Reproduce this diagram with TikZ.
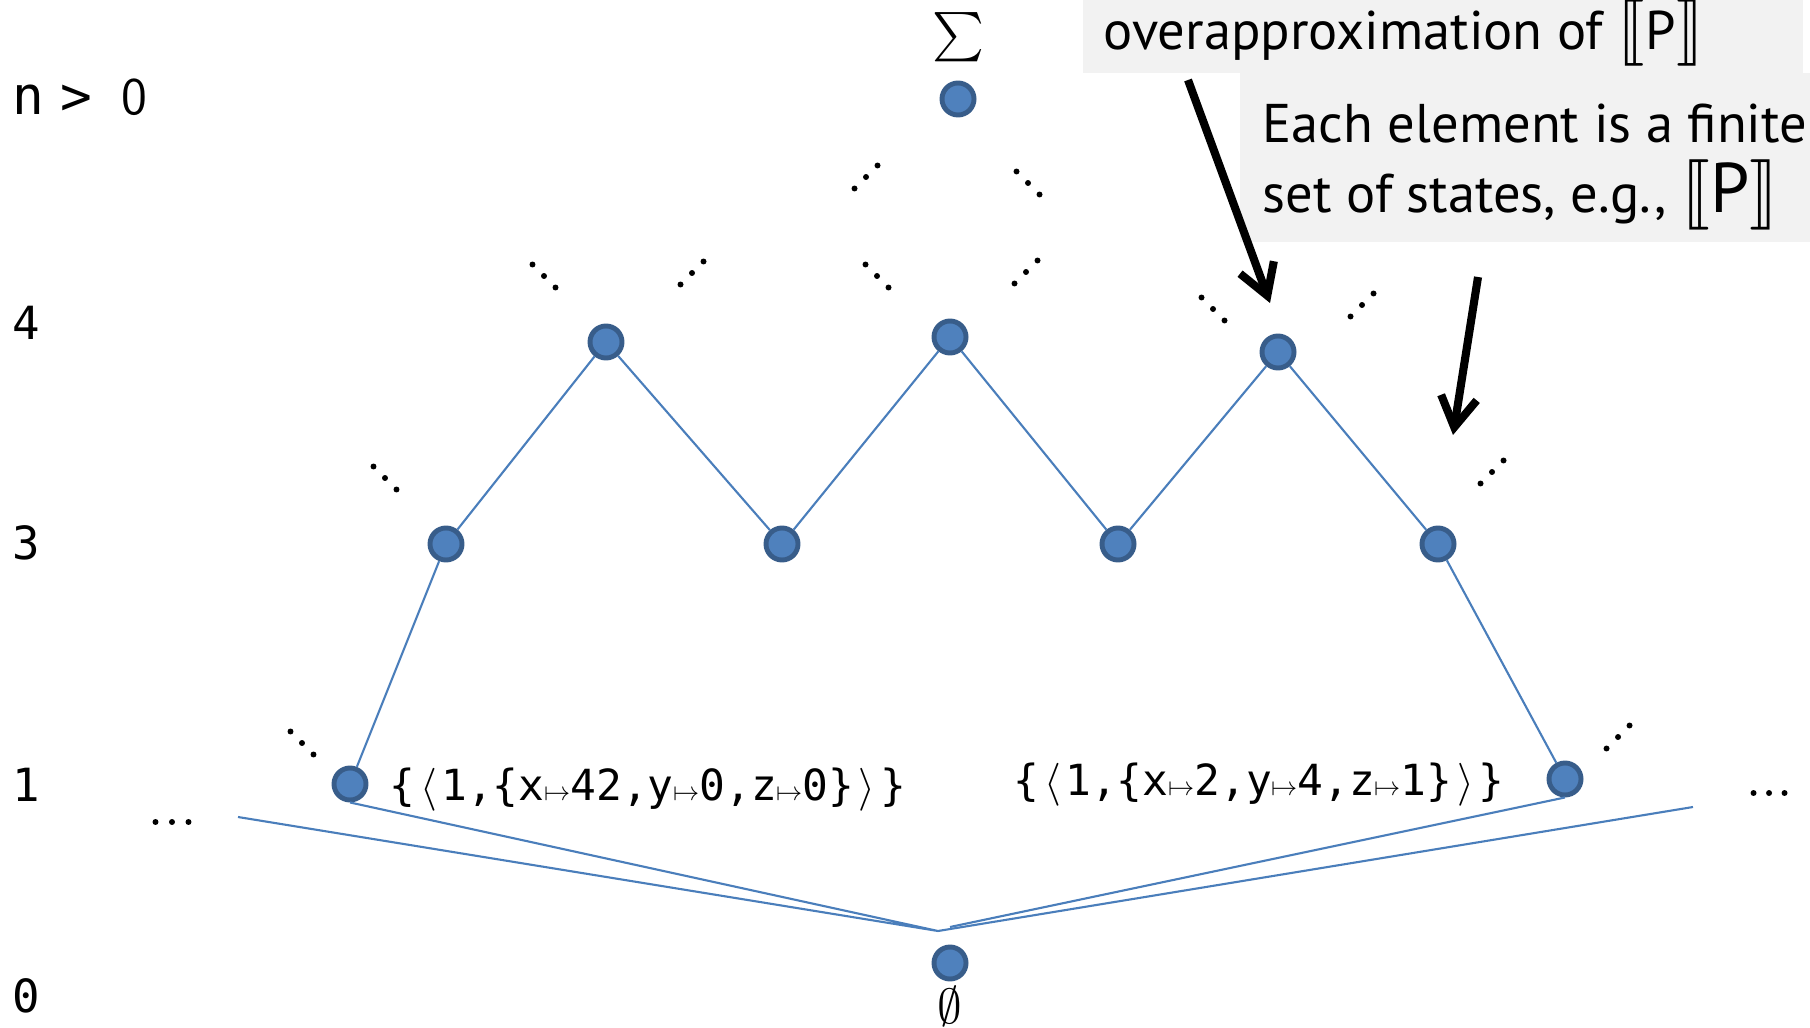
\documentclass[tikz,border=0pt]{standalone}
\usepackage{fontspec}
\usepackage{unicode-math}
\usetikzlibrary{arrows.meta}
\newfontfamily\monofont{DejaVu Sans Mono}
\newfontfamily\notefont{PT Sans}
\definecolor{elemfill}{HTML}{4F81BD}
\definecolor{elemdraw}{HTML}{385D8A}
\definecolor{linkblue}{HTML}{4A7EBB}
\definecolor{notegray}{HTML}{F2F2F2}
\newcommand\la{\makebox[0.6em]{$\langle$}}
\newcommand\ra{\makebox[0.6em]{$\rangle$}}
\newcommand\mto{\makebox[0.6em]{\fontsize{7.6}{8}\selectfont$\mapsto$}}

\begin{document}
\begin{tikzpicture}[x=0.01cm,y=-0.01cm,
  elem/.style={circle, fill=elemfill, draw=elemdraw, line width=1.4pt, minimum size=0.32cm, inner sep=0pt},
  link/.style={linkblue, line width=0.6pt},
  lvl/.style={font=\monofont\fontsize{13}{15}\selectfont, inner sep=0pt, anchor=base},
  state/.style={font=\monofont\fontsize{12.2}{14}\selectfont, inner sep=0pt, anchor=base west},
  note/.style={font=\notefont\fontsize{15.5}{18}\selectfont, inner sep=0pt, anchor=base west},
  hint/.style={line width=2.3pt, -{Straight Barb[length=0.3cm, width=0.36cm]}}]
\useasboundingbox (0,0) rectangle (1810,1028);
% note boxes
\fill[notegray] (1083,0) rectangle (1803,73);
\fill[notegray] (1240,73) rectangle (1810,242);
\node[note] (over) at (1103,50) {overapproximation of {\fontsize{19}{20}\selectfont$\lBrack$}P{\fontsize{19}{20}\selectfont$\rBrack$}};
\node[note] (each) at (1262,143) {Each element is a finite};
\node[note] (setof) at (1262,213) {set of states, e.g., {\fontsize{20}{22}\selectfont$\lBrack$P$\rBrack$}};
% levels
\node[lvl, anchor=base west] (ntop) at (12,115) {\fontsize{15}{17}\selectfont n\hspace{0.3em}>\hspace{0.55em}{\sffamily 0}};
\node[lvl] (n4) at (26,340) {4};
\node[lvl] (n3) at (26,560) {3};
\node[lvl] (n1) at (26,801) {1};
\node[lvl] (n0) at (26,1012) {0};
% lattice elements
\node[elem] (top) at (958,99) {};
\node[elem] (l4a) at (606,342) {};
\node[elem] (l4b) at (950,337) {};
\node[elem] (l4c) at (1278,352) {};
\node[elem] (l3a) at (446,544) {};
\node[elem] (l3b) at (782,544) {};
\node[elem] (l3c) at (1118,544) {};
\node[elem] (l3d) at (1438,544) {};
\node[elem] (l1a) at (350,784) {};
\node[elem] (l1b) at (1565,779) {};
\node[elem] (bot) at (950,963) {};
\node[inner sep=0pt, font=\fontsize{14}{16}\selectfont] (sig) at (958,37) {$\sum$};
\node[inner sep=0pt, font=\fontsize{14}{16}\selectfont] (empty) at (950,1006) {$\emptyset$};
\node[state] (sa) at (389,800) {\{\la1,\{x\mto42,y\mto0,z\mto0\}\ra\}};
\node[state] (sb) at (1013,795) {\{\la1,\{x\mto2,y\mto4,z\mto1\}\ra\}};
% links
\draw[link] (l1a) -- (l3a) -- (l4a) -- (l3b) -- (l4b) -- (l3c) -- (l4c) -- (l3d) -- (l1b);
\coordinate (fanl) at (238,817);
\coordinate (fanr) at (1693,807);
\coordinate (apex) at (938,931);
\coordinate (apex2) at (950,927);
\draw[link] (fanl) -- (apex) -- (l1a.south);
\draw[link] (fanr) -- (apex);
\draw[link] (l1b.south) -- (apex2);
% dots
\foreach \cx/\cy/\dx/\dy in {385/478/11.5/11.5, 302/743/11.5/11.5, 1618/737/11.5/-11.5,
    1492/472/11.5/-11.5, 1362/305/11.5/-11.5, 1213/309/11.5/11.5, 1026/272/11.5/-11.5,
    877/276/11.5/11.5, 692/273/11.5/-11.5, 544/276/11.5/11.5, 866/177/11.5/-11.5,
    1028/183/11.5/11.5, 172/822/16.5/0, 1769/793/15.5/0}
  \foreach \k in {-1,0,1}
    \fill (\cx+\k*\dx, \cy+\k*\dy) circle (0.85pt);
% arrows
\coordinate (a1s) at (1188,80);
\coordinate (a1e) at (1270,303);
\coordinate (a2s) at (1478,277);
\coordinate (a2e) at (1453,435);
\draw[hint] (a1s) -- (a1e);
\draw[hint] (a2s) -- (a2e);
\end{tikzpicture}
\end{document}
